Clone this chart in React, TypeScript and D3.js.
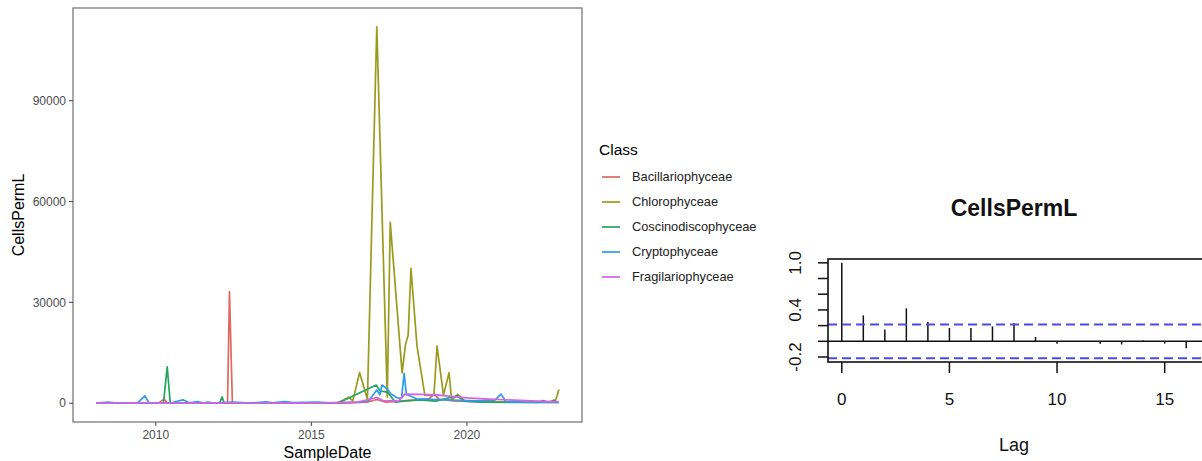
import React, { useEffect, useRef } from "react";
import * as d3 from "d3";

// sample dates + cell counts per class
const bacillariophyceae: [string, number][] = [
  ["2008-02-01", 0], ["2008-09-01", 50], ["2009-06-01", 0], ["2010-02-01", 0],
  ["2010-04-08", 1200], ["2010-05-20", 0], ["2011-01-01", 100], ["2011-09-01", 0],
  ["2012-04-22", 0], ["2012-05-15", 33200], ["2012-06-18", 0], ["2013-03-01", 100],
  ["2014-01-01", 0], ["2015-01-01", 100], ["2016-01-01", 0], ["2016-10-15", 300],
  ["2017-02-07", 1100], ["2017-05-25", 300], ["2017-11-25", 600], ["2018-04-15", 900],
  ["2018-10-15", 1400], ["2018-12-15", 2700], ["2019-02-05", 1200], ["2019-08-01", 700],
  ["2020-07-01", 400], ["2021-07-01", 300], ["2022-12-15", 200],
];

const chlorophyceae: [string, number][] = [
  ["2008-02-01", 0], ["2009-01-01", 0], ["2010-01-01", 0], ["2011-01-01", 0],
  ["2012-01-01", 0], ["2013-01-01", 0], ["2014-01-01", 100], ["2015-01-01", 0],
  ["2015-10-30", 100], ["2016-01-20", 1000], ["2016-03-15", 1800], ["2016-05-01", 700],
  ["2016-07-20", 9100], ["2016-10-20", 1200], ["2017-02-07", 112000], ["2017-06-10", 1800],
  ["2017-07-15", 53800], ["2017-12-01", 9000], ["2018-01-10", 17500], ["2018-02-10", 20200],
  ["2018-03-15", 40100], ["2018-05-25", 17000], ["2018-08-25", 2400], ["2018-12-10", 2400],
  ["2019-01-15", 17000], ["2019-04-01", 2400], ["2019-06-05", 9100], ["2019-07-05", 900],
  ["2019-09-15", 2600], ["2019-12-01", 800], ["2020-06-01", 500], ["2021-01-01", 300],
  ["2021-08-01", 400], ["2022-04-01", 300], ["2022-11-01", 300], ["2022-12-15", 4100],
];

const coscinodiscophyceae: [string, number][] = [
  ["2008-02-01", 0], ["2009-06-01", 0], ["2010-04-01", 0], ["2010-05-15", 10800],
  ["2010-06-20", 0], ["2011-07-01", 100], ["2012-01-20", 0], ["2012-02-18", 1900],
  ["2012-03-15", 0], ["2013-07-01", 0], ["2015-01-01", 100], ["2015-11-25", 200],
  ["2017-02-01", 5400], ["2017-03-15", 3700], ["2017-06-15", 3200], ["2017-09-15", 300],
  ["2018-01-01", 700], ["2018-07-01", 1000], ["2019-01-01", 600], ["2019-09-10", 2200],
  ["2019-11-25", 600], ["2020-07-01", 300], ["2021-07-01", 200], ["2022-04-15", 200],
  ["2022-06-15", 800], ["2022-08-10", 200], ["2022-10-20", 900], ["2022-11-20", 200],
  ["2022-12-15", 300],
];

const cryptophyceae: [string, number][] = [
  ["2008-02-01", 0], ["2008-06-20", 300], ["2008-10-01", 0], ["2009-06-01", 0],
  ["2009-08-25", 2200], ["2009-10-15", 0], ["2010-03-01", 0], ["2010-07-15", 200],
  ["2010-11-15", 1000], ["2011-02-01", 100], ["2011-05-08", 500], ["2011-07-15", 0],
  ["2011-09-02", 300], ["2011-11-15", 0], ["2012-03-01", 200], ["2012-07-01", 300],
  ["2013-01-01", 0], ["2013-07-20", 400], ["2013-10-01", 100], ["2014-02-18", 500],
  ["2014-06-01", 200], ["2015-03-15", 300], ["2015-08-01", 100], ["2016-02-01", 200],
  ["2016-08-01", 300], ["2016-11-05", 800], ["2017-02-07", 3900], ["2017-03-15", 2500],
  ["2017-04-10", 5400], ["2017-06-15", 4100], ["2017-07-20", 2800], ["2017-10-01", 1600],
  ["2017-11-25", 1500], ["2017-12-25", 8900], ["2018-01-20", 2600], ["2018-05-25", 1300],
  ["2019-01-01", 1100], ["2019-07-01", 900], ["2020-04-15", 700], ["2020-11-25", 900],
  ["2021-02-05", 2700], ["2021-04-01", 500], ["2021-10-15", 300], ["2022-05-25", 200],
  ["2022-12-15", 200],
];

const fragilariophyceae: [string, number][] = [
  ["2008-02-01", 0], ["2009-07-01", 100], ["2011-01-01", 0], ["2012-07-01", 100],
  ["2014-01-01", 0], ["2015-07-01", 100], ["2016-07-01", 300], ["2017-02-07", 1700],
  ["2017-04-20", 800], ["2017-10-20", 600], ["2018-01-01", 2700], ["2018-07-01", 2600],
  ["2019-01-01", 2500], ["2019-07-01", 2000], ["2020-01-01", 1600], ["2020-09-15", 1200],
  ["2021-07-01", 900], ["2022-04-15", 600], ["2022-12-15", 400],
];

const classNames = [
  "Bacillariophyceae",
  "Chlorophyceae",
  "Coscinodiscophyceae",
  "Cryptophyceae",
  "Fragilariophyceae",
];
const classColors = ["#E0685E", "#9A9B1E", "#25A55F", "#2F9BEA", "#D463E6"];
const classSeries = [
  bacillariophyceae,
  chlorophyceae,
  coscinodiscophyceae,
  cryptophyceae,
  fragilariophyceae,
];

const yTicks = [0, 30000, 60000, 90000];
const xTickYears = [2010, 2015, 2020];

// autocorrelation panel
const acfLags = [0, 1, 2, 3, 4, 5, 6, 7, 8, 9, 10, 11, 12, 13, 14, 15, 16];
const acfValues = [
  1.0, 0.33, 0.15, 0.42, 0.245, 0.17, 0.17, 0.19, 0.23, 0.055, -0.03, 0.0, -0.03,
  -0.04, 0.01, -0.03, -0.09,
];
const acfCi = 0.215;
const acfYTicks = [-0.2, 0.0, 0.2, 0.4, 0.6, 0.8, 1.0];
const acfYLabels = ["-0.2", "0.4", "1.0"];
const acfXTicks = [0, 5, 10, 15];

const FONT = "'Liberation Sans', Arial, Helvetica, sans-serif";

export default function App() {
  const svgRef = useRef<SVGSVGElement>(null);

  useEffect(() => {
    const svg = d3.select(svgRef.current);
    svg.selectAll("*").remove();

    const parse = d3.timeParse("%Y-%m-%d");
    const series = classSeries.map((s) =>
      s.map(([d, v]) => ({ date: parse(d) as Date, value: v }))
    );
    const all = series.flat();

    // ---- left: ggplot-style time series ----
    const panel = { left: 73, right: 582, top: 8, bottom: 422 };

    const [dMin, dMax] = d3.extent(all, (d) => d.date) as [Date, Date];
    const dPad = (dMax.getTime() - dMin.getTime()) * 0.05;
    const x = d3
      .scaleTime()
      .domain([new Date(dMin.getTime() - dPad), new Date(dMax.getTime() + dPad)])
      .range([panel.left, panel.right]);

    const vMax = d3.max(all, (d) => d.value) as number;
    const y = d3
      .scaleLinear()
      .domain([-vMax * 0.05, vMax * 1.05])
      .range([panel.bottom, panel.top]);

    const g = svg.append("g");

    const line = d3
      .line<{ date: Date; value: number }>()
      .x((d) => x(d.date))
      .y((d) => y(d.value));

    series.forEach((s, i) => {
      g.append("path")
        .datum(s)
        .attr("d", line)
        .attr("fill", "none")
        .attr("stroke", classColors[i])
        .attr("stroke-width", 1.7)
        .attr("stroke-linejoin", "round");
    });

    g.append("rect")
      .attr("x", panel.left)
      .attr("y", panel.top)
      .attr("width", panel.right - panel.left)
      .attr("height", panel.bottom - panel.top)
      .attr("fill", "none")
      .attr("stroke", "#707070")
      .attr("stroke-width", 1.2);

    // y axis
    const yAxis = g.append("g").attr("font-family", FONT);
    yTicks.forEach((t) => {
      yAxis
        .append("line")
        .attr("x1", panel.left - 4)
        .attr("x2", panel.left)
        .attr("y1", y(t))
        .attr("y2", y(t))
        .attr("stroke", "#444")
        .attr("stroke-width", 1);
      yAxis
        .append("text")
        .attr("x", panel.left - 7)
        .attr("y", y(t))
        .attr("dy", "0.35em")
        .attr("text-anchor", "end")
        .attr("font-size", 12)
        .attr("fill", "#4d4d4d")
        .text(t);
    });

    // x axis
    const xAxis = g.append("g").attr("font-family", FONT);
    xTickYears.forEach((yr) => {
      const px = x(new Date(yr, 0, 1));
      xAxis
        .append("line")
        .attr("x1", px)
        .attr("x2", px)
        .attr("y1", panel.bottom)
        .attr("y2", panel.bottom + 4)
        .attr("stroke", "#444")
        .attr("stroke-width", 1);
      xAxis
        .append("text")
        .attr("x", px)
        .attr("y", 435)
        .attr("dy", "0.35em")
        .attr("text-anchor", "middle")
        .attr("font-size", 12)
        .attr("fill", "#4d4d4d")
        .text(yr);
    });

    g.append("text")
      .attr("x", (panel.left + panel.right) / 2)
      .attr("y", 452)
      .attr("dy", "0.35em")
      .attr("text-anchor", "middle")
      .attr("font-family", FONT)
      .attr("font-size", 16)
      .text("SampleDate");

    g.append("text")
      .attr("transform", `translate(18,${(panel.top + panel.bottom) / 2}) rotate(-90)`)
      .attr("dy", "0.35em")
      .attr("text-anchor", "middle")
      .attr("font-family", FONT)
      .attr("font-size", 16)
      .text("CellsPermL");

    // legend
    const legend = g.append("g").attr("font-family", FONT);
    legend
      .append("text")
      .attr("x", 599)
      .attr("y", 150)
      .attr("dy", "0.35em")
      .attr("font-size", 15.5)
      .text("Class");
    const legY = d3.scalePoint<string>().domain(classNames).range([177, 277]);
    classNames.forEach((name, i) => {
      const ly = legY(name) as number;
      legend
        .append("line")
        .attr("x1", 602)
        .attr("x2", 620)
        .attr("y1", ly)
        .attr("y2", ly)
        .attr("stroke", classColors[i])
        .attr("stroke-width", 1.7);
      legend
        .append("text")
        .attr("x", 632)
        .attr("y", ly)
        .attr("dy", "0.35em")
        .attr("font-size", 12.8)
        .attr("fill", "#222")
        .text(name);
    });

    // ---- right: base-R acf plot ----
    const box = { left: 828, right: 1200, top: 259, bottom: 362 };
    const lo = Math.min(d3.min(acfValues) as number, -acfCi);
    const hi = Math.max(d3.max(acfValues) as number, acfCi);
    const yPad = (hi - lo) * 0.04;
    const ya = d3
      .scaleLinear()
      .domain([lo - yPad, hi + yPad])
      .range([box.bottom, box.top]);
    const lagMax = d3.max(acfLags) as number;
    const xPad = lagMax * 0.04;
    const xa = d3
      .scaleLinear()
      .domain([-xPad, lagMax + xPad])
      .range([box.left, box.right]);

    const a = svg.append("g").attr("font-family", FONT);

    a.selectAll(".spike")
      .data(acfLags)
      .enter()
      .append("line")
      .attr("x1", (d) => xa(d))
      .attr("x2", (d) => xa(d))
      .attr("y1", ya(0))
      .attr("y2", (d, i) => ya(acfValues[i]))
      .attr("stroke", "#111")
      .attr("stroke-width", 1.5);

    a.append("line")
      .attr("x1", box.left)
      .attr("x2", 1210)
      .attr("y1", ya(0))
      .attr("y2", ya(0))
      .attr("stroke", "#111")
      .attr("stroke-width", 1.5);

    [acfCi, -acfCi].forEach((c) => {
      a.append("line")
        .attr("x1", box.left)
        .attr("x2", 1210)
        .attr("y1", ya(c))
        .attr("y2", ya(c))
        .attr("stroke", "#4b4be6")
        .attr("stroke-width", 2)
        .attr("stroke-dasharray", "9,5");
    });

    // frame runs past the right edge of the picture
    a.append("rect")
      .attr("x", box.left)
      .attr("y", box.top)
      .attr("width", 1210 - box.left)
      .attr("height", box.bottom - box.top)
      .attr("fill", "none")
      .attr("stroke", "#111")
      .attr("stroke-width", 1.6);

    acfYTicks.forEach((t) => {
      a.append("line")
        .attr("x1", box.left - 10)
        .attr("x2", box.left)
        .attr("y1", ya(t))
        .attr("y2", ya(t))
        .attr("stroke", "#111")
        .attr("stroke-width", 1.5);
    });
    acfYLabels.forEach((lab) => {
      a.append("text")
        .attr("transform", `translate(795,${ya(+lab)}) rotate(-90)`)
        .attr("dy", "0.35em")
        .attr("text-anchor", "middle")
        .attr("font-size", 17)
        .attr("fill", "#111")
        .text(lab);
    });

    acfXTicks.forEach((t) => {
      a.append("line")
        .attr("x1", xa(t))
        .attr("x2", xa(t))
        .attr("y1", box.bottom)
        .attr("y2", box.bottom + 11)
        .attr("stroke", "#111")
        .attr("stroke-width", 1.5);
      a.append("text")
        .attr("x", xa(t))
        .attr("y", 399)
        .attr("dy", "0.35em")
        .attr("text-anchor", "middle")
        .attr("font-size", 17)
        .attr("fill", "#111")
        .text(t);
    });

    a.append("text")
      .attr("x", (box.left + box.right) / 2)
      .attr("y", 445)
      .attr("dy", "0.35em")
      .attr("text-anchor", "middle")
      .attr("font-size", 18)
      .attr("fill", "#111")
      .text("Lag");

    a.append("text")
      .attr("x", (box.left + box.right) / 2)
      .attr("y", 208)
      .attr("dy", "0.35em")
      .attr("text-anchor", "middle")
      .attr("font-size", 23)
      .attr("font-weight", "bold")
      .attr("fill", "#111")
      .text("CellsPermL");
  }, []);

  return (
    <svg
      ref={svgRef}
      width={1202}
      height={461}
      style={{ position: "fixed", top: 0, left: 0, background: "#fff" }}
    />
  );
}
